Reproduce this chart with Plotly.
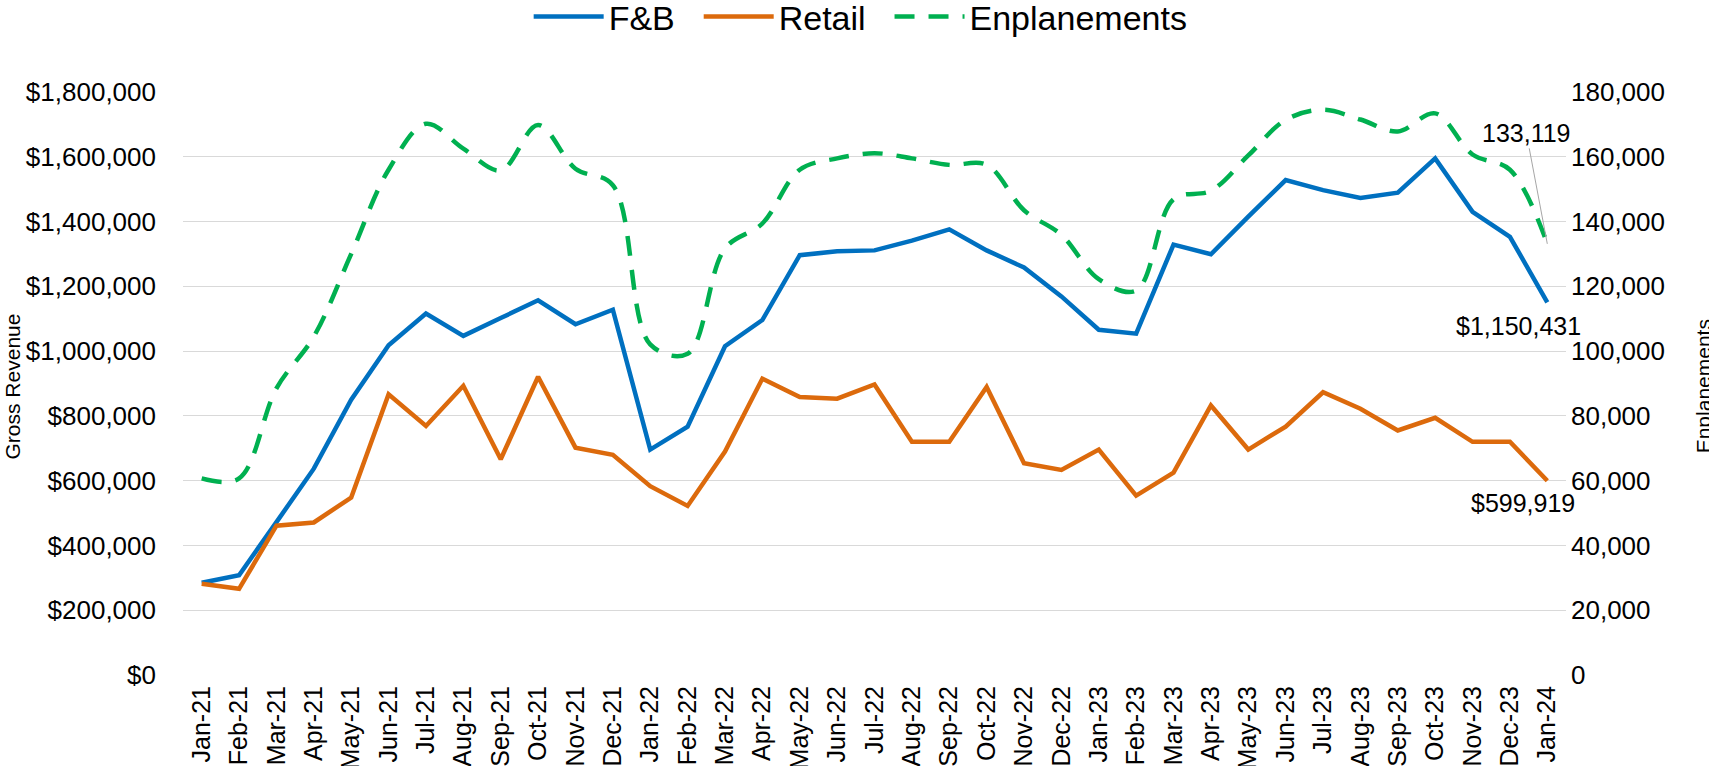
import plotly.graph_objects as go

months = ["Jan-21","Feb-21","Mar-21","Apr-21","May-21","Jun-21","Jul-21","Aug-21","Sep-21","Oct-21","Nov-21","Dec-21",
          "Jan-22","Feb-22","Mar-22","Apr-22","May-22","Jun-22","Jul-22","Aug-22","Sep-22","Oct-22","Nov-22","Dec-22",
          "Jan-23","Feb-23","Mar-23","Apr-23","May-23","Jun-23","Jul-23","Aug-23","Sep-23","Oct-23","Nov-23","Dec-23",
          "Jan-24"]

fb = [285000, 308000, 472000, 637000, 850000, 1018000, 1116000, 1047000, 1102000, 1157000, 1083000, 1128000,
      696000, 767000, 1015000, 1096000, 1296000, 1308000, 1311000, 1341000, 1376000, 1311000, 1258000, 1169000,
      1066000, 1054000, 1329000, 1299000, 1415000, 1528000, 1497000, 1473000, 1489000, 1595000, 1430000, 1353000,
      1150431]

retail = [282000, 266000, 461000, 471000, 548000, 867000, 769000, 893000, 666000, 921000, 702000, 680000,
          583000, 522000, 690000, 915000, 858000, 853000, 897000, 720000, 720000, 889000, 654000, 633000,
          696000, 554000, 625000, 832000, 696000, 767000, 873000, 822000, 755000, 794000, 720000, 720000,
          599919]

enplanements = [60700, 60700, 88500, 104500, 130000, 156000, 170200, 162500, 155800, 169800, 156300, 151200,
                102100, 99200, 131700, 139400, 156000, 159500, 161100, 159500, 157500, 157500, 143500, 135900,
                122200, 118700, 146900, 149500, 160400, 171400, 174500, 171500, 167800, 173400, 160700, 156000,
                133119]

FONT = "Liberation Sans, Arial, sans-serif"
BLUE = "#0070C0"
ORANGE = "#DC6A0C"
GREEN = "#00B050"
NB = "\u00a0"

fig = go.Figure()
fig.add_trace(go.Scatter(x=months, y=fb, name="F&B" + NB * 2, mode="lines",
                         line=dict(color=BLUE, width=4.5), yaxis="y"))
fig.add_trace(go.Scatter(x=months, y=retail, name="Retail" + NB * 2, mode="lines",
                         line=dict(color=ORANGE, width=4.5), yaxis="y"))
fig.add_trace(go.Scatter(x=months, y=enplanements, name="Enplanements", mode="lines",
                         line=dict(color=GREEN, width=4.5, dash="20px,14px", shape="spline", smoothing=1),
                         yaxis="y2"))

last = months[-1]
fig.add_annotation(x=last, y=fb[-1], xref="x", yref="y", text="${:,.0f}".format(fb[-1]),
                   showarrow=False, xshift=-29, yshift=-24, font=dict(family=FONT, size=25, color="#000"))
fig.add_annotation(x=last, y=retail[-1], xref="x", yref="y", text="${:,.0f}".format(retail[-1]),
                   showarrow=False, xshift=-24, yshift=-22, font=dict(family=FONT, size=25, color="#000"))
fig.add_annotation(x=last, y=enplanements[-1], xref="x", yref="y2", text="{:,.0f}".format(enplanements[-1]),
                   showarrow=True, arrowhead=0, arrowwidth=1, arrowcolor="#A6A6A6", ax=-21, ay=-111,
                   standoff=0, font=dict(family=FONT, size=25, color="#000"))

fig.add_annotation(x=-0.1236, y=0.495, xref="paper", yref="paper", xanchor="center", yanchor="middle",
                   text="Gross Revenue", textangle=-90,
                   showarrow=False, font=dict(family=FONT, size=21, color="#000"))
fig.add_annotation(x=1.099, y=0.495, xref="paper", yref="paper", xanchor="center", yanchor="middle",
                   text="Enplanements", textangle=-90,
                   showarrow=False, font=dict(family=FONT, size=21, color="#000"))

fig.update_layout(
    width=1709, height=766,
    margin=dict(l=183, r=143, t=92, b=91, autoexpand=False),
    paper_bgcolor="white", plot_bgcolor="white",
    font=dict(family=FONT, color="#000"),
    showlegend=True,
    legend=dict(orientation="h", x=0.49, y=1.129, xanchor="center", yanchor="middle",
                font=dict(family=FONT, size=34, color="#000"), itemwidth=70, bgcolor="rgba(0,0,0,0)"),
    xaxis=dict(type="category", range=[-0.5, 36.5], tickangle=-90, showgrid=False,
               tickfont=dict(family=FONT, size=25, color="#000"), showline=False, ticks="",
               ticklabelstandoff=5),
    yaxis=dict(range=[0, 1800000], dtick=200000, tickprefix="$", tickformat=",", showgrid=True,
               gridcolor="#D9D9D9", gridwidth=1.3, zeroline=False, showline=False, ticks="",
               tickfont=dict(family=FONT, size=26, color="#000"), ticklabelstandoff=26),
    yaxis2=dict(range=[0, 180000], dtick=20000, tickformat=",", overlaying="y", side="right",
                showgrid=False, zeroline=False, showline=False, ticks="",
                tickfont=dict(family=FONT, size=26, color="#000"), ticklabelstandoff=4),
)

fig.write_html("out.html", config={"displayModeBar": False},
               post_script="document.body.style.margin='0';document.body.style.overflow='hidden';")
